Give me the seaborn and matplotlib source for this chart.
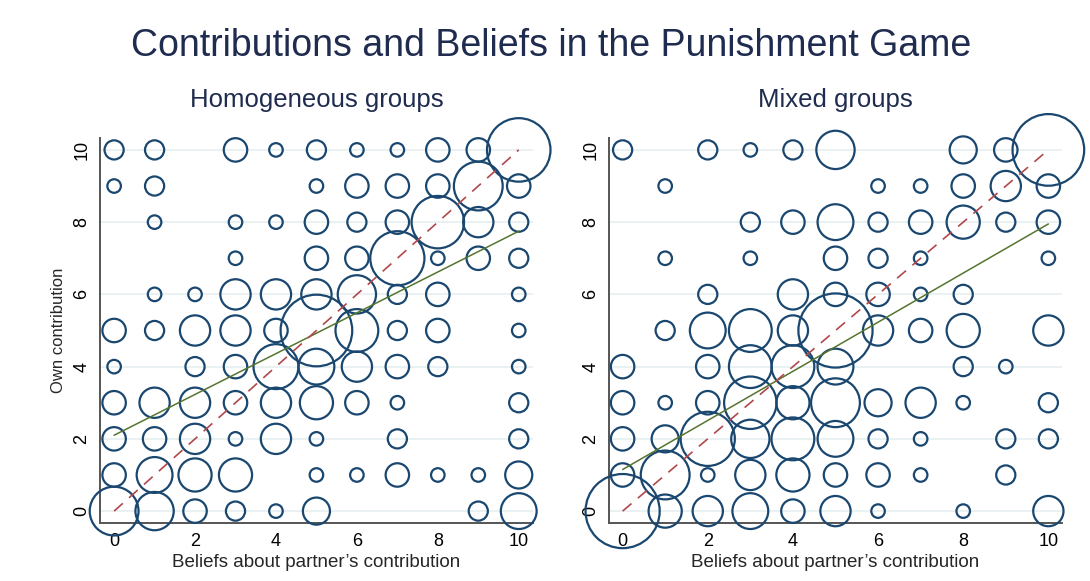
import numpy as np
import pandas as pd
import matplotlib
matplotlib.use("Agg")
import matplotlib.pyplot as plt
import seaborn as sns

# === 1. Datos (frecuencias) ===
hom_x = [0, 1, 3, 4, 5, 6, 7, 8, 9, 10,
         0, 1, 5, 6, 7, 8, 9, 10,
         1, 3, 4, 5, 6, 7, 8, 9, 10,
         3, 5, 6, 7, 8, 9, 10,
         1, 2, 3, 4, 5, 6, 7, 8, 10,
         0, 1, 2, 3, 4, 5, 6, 7, 8, 10,
         0, 2, 3, 4, 5, 6, 7, 8, 10,
         0, 1, 2, 3, 4, 5, 6, 7, 10,
         0, 1, 2, 3, 4, 5, 7, 10,
         0, 1, 2, 3, 5, 6, 7, 8, 9, 10,
         0, 1, 2, 3, 4, 5, 9, 10]
hom_y = [10] * 10 + [9] * 8 + [8] * 9 + [7] * 7 + [6] * 9 + [5] * 10 + \
        [4] * 9 + [3] * 9 + [2] * 8 + [1] * 10 + [0] * 8
hom_n = [2, 2, 3, 1, 2, 1, 1, 3, 3, 22,
         1, 2, 1, 3, 3, 3, 13, 3,
         1, 1, 1, 3, 2, 3, 15, 5, 2,
         1, 3, 3, 16, 1, 3, 2,
         1, 1, 5, 5, 5, 8, 2, 3, 1,
         3, 2, 5, 5, 3, 28, 10, 2, 3, 1,
         1, 2, 3, 11, 7, 5, 3, 2, 1,
         3, 5, 5, 3, 5, 6, 3, 1, 2,
         3, 3, 5, 1, 5, 1, 2, 2,
         3, 7, 6, 6, 1, 1, 3, 1, 1, 4,
         13, 8, 3, 2, 1, 4, 2, 7]

mix_x = [0, 2, 3, 4, 5, 8, 9, 10,
         1, 6, 7, 8, 9, 10,
         3, 4, 5, 6, 7, 8, 9, 10,
         1, 3, 5, 6, 7, 10,
         2, 4, 5, 6, 7, 8,
         1, 2, 3, 4, 5, 6, 7, 8, 10,
         0, 2, 3, 4, 5, 8, 9,
         0, 1, 2, 3, 4, 5, 6, 7, 8, 10,
         0, 1, 2, 3, 4, 5, 6, 7, 9, 10,
         0, 1, 2, 3, 4, 5, 6, 7, 9,
         0, 1, 2, 3, 4, 5, 6, 8, 10]
mix_y = [10] * 8 + [9] * 6 + [8] * 8 + [7] * 6 + [6] * 6 + [5] * 9 + \
        [4] * 7 + [3] * 10 + [2] * 10 + [1] * 9 + [0] * 9
mix_n = [2, 2, 1, 2, 8, 4, 3, 28,
         1, 1, 1, 3, 5, 3,
         2, 3, 7, 2, 3, 6, 2, 3,
         1, 1, 3, 2, 1, 1,
         2, 5, 3, 3, 1, 2,
         2, 7, 10, 5, 30, 5, 3, 6, 5,
         3, 3, 10, 10, 7, 2, 1,
         3, 1, 3, 15, 6, 13, 4, 5, 1, 2,
         3, 4, 16, 8, 10, 7, 2, 1, 2, 2,
         3, 13, 1, 5, 6, 3, 3, 1, 2,
         30, 6, 5, 7, 3, 5, 1, 1, 5]

# recta ajustada (intercepto, pendiente)
hom_fit = [2.1, 0.565]
mix_fit = [1.15, 0.68]

df_hom = pd.DataFrame({"belief": hom_x, "own": hom_y, "n": hom_n})
df_mix = pd.DataFrame({"belief": mix_x, "own": mix_y, "n": mix_n})

# === 2. Estilo ===
sns.set_style("white")
plt.rcParams["font.family"] = ["Liberation Sans", "DejaVu Sans"]

navy = "#1a476f"
green = "#55752f"
maroon = "#b0484c"
titulo = "#1f2c4f"

fig = plt.figure(figsize=(10.9, 5.81), dpi=100)
ax1 = fig.add_axes([0.0917, 0.0998, 0.3972, 0.6627])
ax2 = fig.add_axes([0.5587, 0.0998, 0.4156, 0.6627])


def panel(ax, df, fit, subtitulo, ylabel):
    # círculos huecos con área proporcional a la frecuencia
    sns.scatterplot(data=df, x="belief", y="own", size="n", sizes=(95, 95 * 30),
                    size_norm=(1, 30), legend=False, ax=ax, zorder=3)
    pts = ax.collections[-1]
    pts.set_facecolor("none")
    pts.set_edgecolor(navy)
    pts.set_linewidth(1.6)
    pts.set_clip_on(False)

    xs = np.array([0, 10])
    sns.lineplot(x=xs, y=fit[0] + fit[1] * xs, color=green, lw=1.1, ax=ax, zorder=4)
    sns.lineplot(x=xs, y=xs, color=maroon, lw=1.2, ax=ax, zorder=4,
                 dashes=False, linestyle=(0, (7, 5)))

    ax.set_ylim(-0.33, 10.33)
    ax.set_xticks(range(0, 11, 2))
    ax.set_yticks(range(0, 11, 2))
    ax.grid(axis="y", color="#e6eff1", lw=1.2, zorder=0)
    ax.set_axisbelow(True)
    for s in ["top", "right"]:
        ax.spines[s].set_visible(False)
    for s in ["left", "bottom"]:
        ax.spines[s].set_color("#555555")
        ax.spines[s].set_linewidth(1.4)
    ax.tick_params(axis="both", direction="out", length=5, width=1.2,
                   color="#555555", labelsize=13, labelcolor="black", pad=2)
    for lab in ax.get_yticklabels():
        lab.set_rotation(90)
        lab.set_va("center")
    ax.set_xlabel("Beliefs about partner\u2019s contribution", fontsize=13.5, labelpad=3)
    ax.set_ylabel(ylabel, fontsize=12, labelpad=5)
    ax.set_title(subtitulo, fontsize=18.5, color=titulo, pad=22)


panel(ax1, df_hom, hom_fit, "Homogeneous groups", "Own contribution")
ax1.set_xlim(-0.35, 10.35)
panel(ax2, df_mix, mix_fit, "Mixed groups", "")
ax2.set_xlim(-0.32, 10.32)

fig.text(0.506, 0.92, "Contributions and Beliefs in the Punishment Game",
         ha="center", va="center", fontsize=27, color=titulo)

plt.savefig("out.png", dpi=100)
